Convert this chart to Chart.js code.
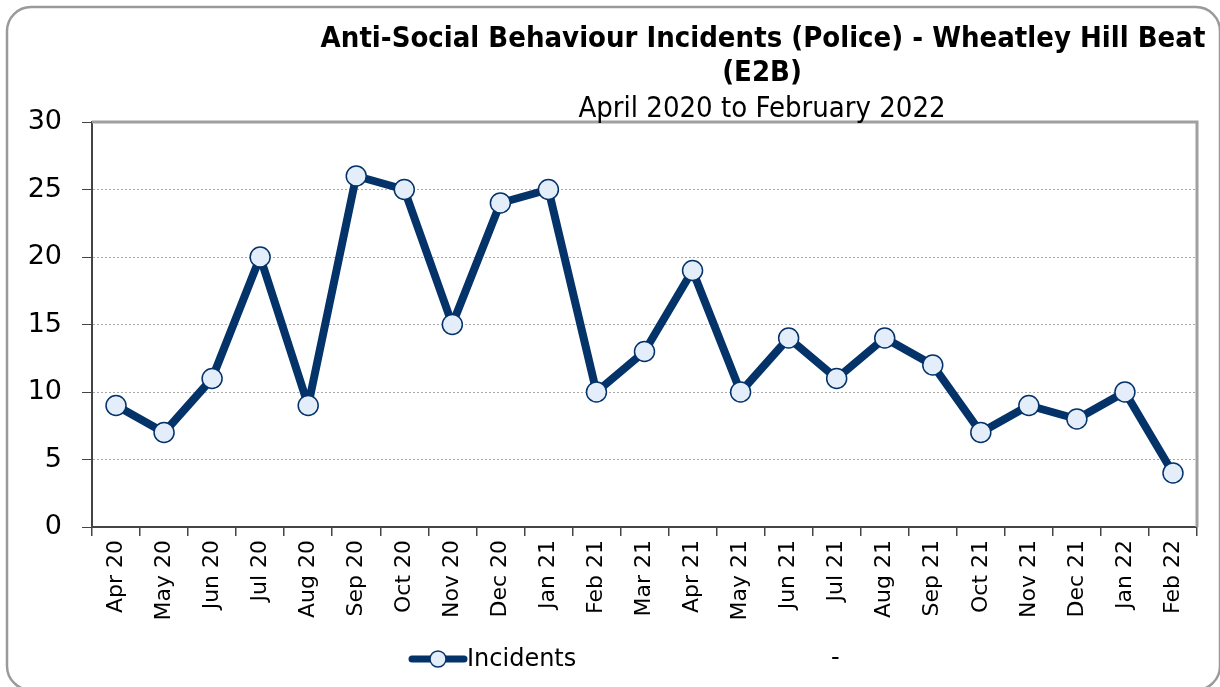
<!DOCTYPE html>
<html>
<head>
<meta charset="utf-8">
<script src="https://cdn.jsdelivr.net/npm/chart.js@4/dist/chart.umd.min.js"></script>
<style>
  html, body { margin: 0; padding: 0; background: #fff; }
  canvas { display: block; }
</style>
</head>
<body>
<canvas id="asbChart" width="1220" height="687"></canvas>
<script>
const months = ['Apr 20', 'May 20', 'Jun 20', 'Jul 20', 'Aug 20', 'Sep 20', 'Oct 20', 'Nov 20',
  'Dec 20', 'Jan 21', 'Feb 21', 'Mar 21', 'Apr 21', 'May 21', 'Jun 21', 'Jul 21', 'Aug 21',
  'Sep 21', 'Oct 21', 'Nov 21', 'Dec 21', 'Jan 22', 'Feb 22'];
const incidents = [9, 7, 11, 20, 9, 26, 25, 15, 24, 25, 10, 13, 19, 10, 14, 11, 14, 12, 7, 9, 8, 10, 4];
const yTicks = [0, 5, 10, 15, 20, 25, 30];

const titleLines = ['Anti-Social Behaviour Incidents (Police) - Wheatley Hill Beat', '(E2B)'];
const subTitle = 'April 2020 to February 2022';
const legendLabels = ['Incidents', '-'];

const navy = '#04336a';
const pointFill = '#e4eefb';

// frame, title, plot borders and legend are drawn by hand
const decorations = {
  id: 'decorations',
  beforeDraw(chart) {
    const ctx = chart.ctx;
    ctx.save();
    ctx.fillStyle = '#fff';
    ctx.fillRect(0, 0, chart.width, chart.height);
    ctx.strokeStyle = '#9a9a9a';
    ctx.lineWidth = 2.5;
    ctx.beginPath();
    ctx.roundRect(7, 7, 1213, 683, 24);
    ctx.stroke();
    ctx.restore();
  },
  afterDatasetsDraw(chart) {
    const ctx = chart.ctx;
    const a = chart.chartArea;
    ctx.save();
    // grey top/right plot border
    ctx.strokeStyle = '#a0a0a0';
    ctx.lineWidth = 3;
    ctx.beginPath();
    ctx.moveTo(a.left, a.top);
    ctx.lineTo(a.right, a.top);
    ctx.lineTo(a.right, a.bottom);
    ctx.stroke();

    // title
    ctx.fillStyle = '#000';
    ctx.textAlign = 'center';
    ctx.textBaseline = 'alphabetic';
    ctx.font = 'bold 29px "DejaVu Sans Condensed", "DejaVu Sans", sans-serif';
    ctx.fillText(titleLines[0], 763, 47);
    ctx.fillText(titleLines[1], 762, 81);
    ctx.font = '29px "DejaVu Sans Condensed", "DejaVu Sans", sans-serif';
    ctx.fillText(subTitle, 762, 117);

    // legend
    const ly = 659;
    ctx.strokeStyle = navy;
    ctx.lineWidth = 7;
    ctx.lineCap = 'round';
    ctx.beginPath();
    ctx.moveTo(412, ly);
    ctx.lineTo(464, ly);
    ctx.stroke();
    ctx.beginPath();
    ctx.arc(438, ly, 8, 0, Math.PI * 2);
    ctx.fillStyle = pointFill;
    ctx.fill();
    ctx.lineWidth = 1.5;
    ctx.stroke();
    ctx.fillStyle = '#000';
    ctx.textAlign = 'left';
    ctx.textBaseline = 'middle';
    ctx.font = '24px "DejaVu Sans", sans-serif';
    ctx.fillText(legendLabels[0], 467, ly + 1);
    ctx.fillText(legendLabels[1], 831, ly);
    ctx.restore();
  }
};

new Chart(document.getElementById('asbChart'), {
  type: 'line',
  data: {
    labels: months,
    datasets: [{
      label: legendLabels[0],
      data: incidents,
      borderColor: navy,
      borderWidth: 8,
      borderJoinStyle: 'round',
      tension: 0,
      pointRadius: 10,
      pointHoverRadius: 10,
      pointBackgroundColor: pointFill,
      pointBorderColor: navy,
      pointBorderWidth: 1.5
    }]
  },
  options: {
    responsive: false,
    animation: false,
    events: [],
    layout: { padding: { top: 122, right: 23, bottom: 60, left: 0 } },
    plugins: {
      legend: { display: false },
      title: { display: false },
      tooltip: { enabled: false }
    },
    scales: {
      x: {
        offset: true,
        grid: {
          offset: true,
          drawOnChartArea: false,
          drawTicks: true,
          tickLength: 9,
          color: '#444',
          lineWidth: 1.5
        },
        border: { color: '#444', width: 2 },
        ticks: {
          autoSkip: false,
          maxRotation: 90,
          minRotation: 90,
          padding: 4,
          color: '#000',
          font: { family: '"DejaVu Sans", sans-serif', size: 22 }
        },
        afterFit(scale) { scale.height = 100; }
      },
      y: {
        min: 0,
        max: 30,
        afterBuildTicks(scale) { scale.ticks = yTicks.map(v => ({ value: v })); },
        grid: {
          color: '#a8a8a8',
          lineWidth: 1,
          tickColor: '#444',
          tickLength: 10,
          tickBorderDash: []
        },
        border: { color: '#444', width: 2, dash: [2, 2] },
        ticks: {
          padding: 20,
          color: '#000',
          font: { family: '"DejaVu Sans", sans-serif', size: 27 }
        },
        afterFit(scale) { scale.width = 92; }
      }
    }
  },
  plugins: [decorations]
});
</script>
</body>
</html>
